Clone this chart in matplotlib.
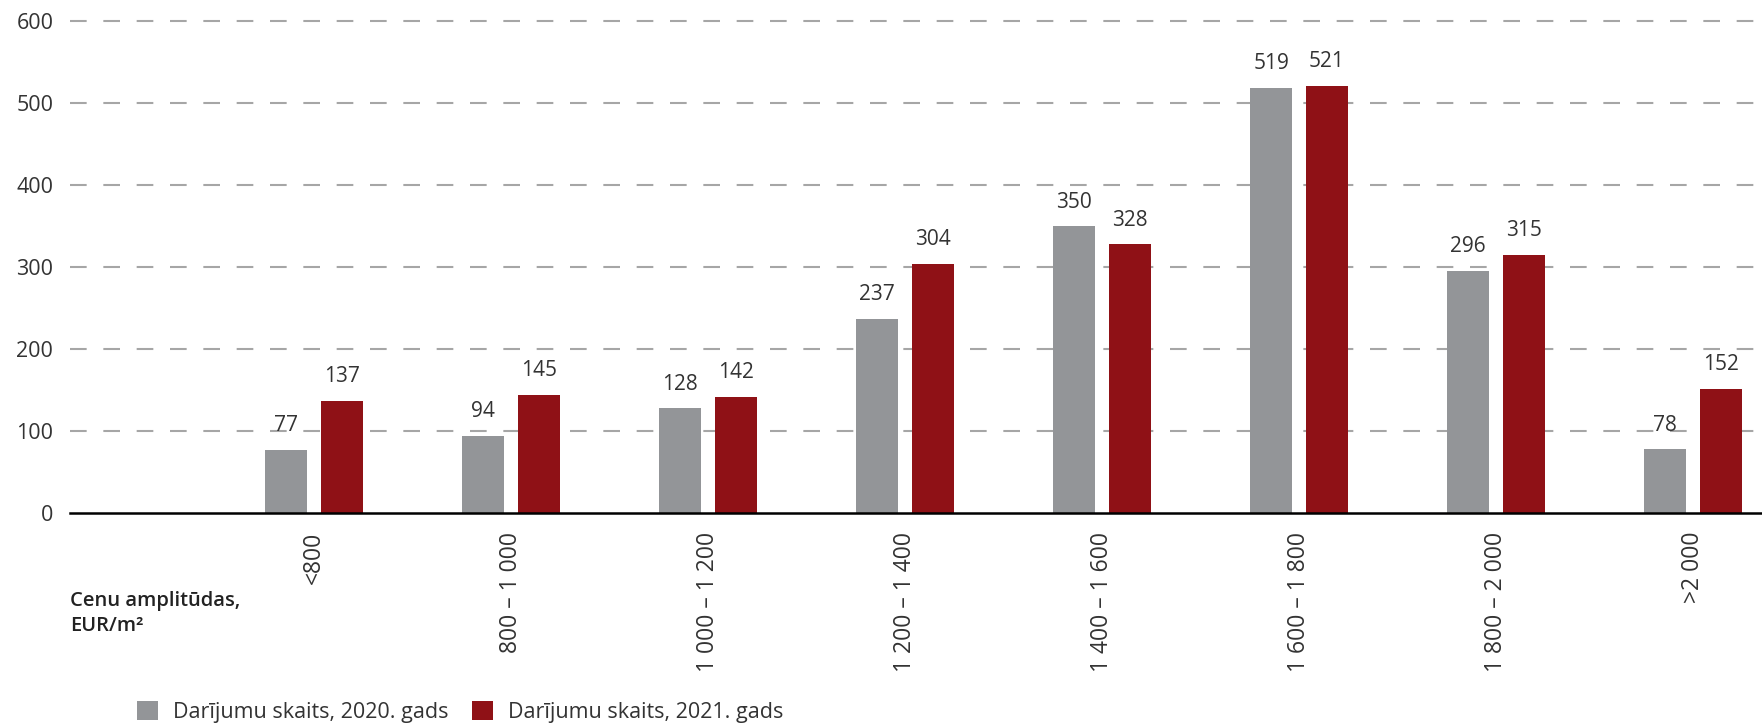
import numpy as np
import matplotlib.pyplot as plt

# price ranges and deal counts
categories = ['<800', '800 – 1 000', '1 000 – 1 200', '1 200 – 1 400',
              '1 400 – 1 600', '1 600 – 1 800', '1 800 – 2 000', '>2 000']
deals_2020 = [77, 94, 128, 237, 350, 519, 296, 78]
deals_2021 = [137, 145, 142, 304, 328, 521, 315, 152]
yticks = [0, 100, 200, 300, 400, 500, 600]

grey = '#939598'
red = '#8f1116'
txt = '#333333'

plt.rcParams['font.family'] = ['Open Sans', 'DejaVu Sans']

fig = plt.figure(figsize=(17.62, 7.28), dpi=100)
ax = fig.add_axes([0.0397, 0.2947, 0.9603, 0.6759])

x = np.arange(len(categories))
w = 0.21
off = 0.142
b1 = ax.bar(x - off, deals_2020, w, color=grey, label='Darījumu skaits, 2020. gads', zorder=3)
b2 = ax.bar(x + off, deals_2021, w, color=red, label='Darījumu skaits, 2021. gads', zorder=3)

ax.bar_label(b1, padding=10, fontsize=15, color=txt)
ax.bar_label(b2, padding=10, fontsize=15, color=txt)

ax.set_xlim(-1.239, 7.35)
ax.set_ylim(0, 600)
ax.set_yticks(yticks)
ax.set_xticks(x)
ax.set_xticklabels(categories, rotation=90, fontsize=16.5, color=txt)
ax.tick_params(axis='y', length=0, pad=12, labelsize=15.5, labelcolor=txt)
ax.tick_params(axis='x', length=0, pad=13)

# dashed gridlines
for y in yticks[1:]:
    ax.axhline(y, color='#a6a6a6', lw=1.5, linestyle=(0, (8, 8)), zorder=1, clip_on=False)

for s in ['top', 'right', 'left']:
    ax.spines[s].set_visible(False)
ax.spines['bottom'].set_linewidth(1.8)
ax.spines['bottom'].set_color('black')
ax.spines['bottom'].set_zorder(4)

fig.text(0.0397, 0.188, 'Cenu amplitūdas,\nEUR/m²', fontsize=14.5, color='#222222',
         va='top', ha='left', linespacing=1.3, fontweight=600)

leg = fig.legend(loc='center left', bbox_to_anchor=(0.078, 0.022), ncol=2, frameon=False,
                 fontsize=15.5, handlelength=0.95, handleheight=0.95, handletextpad=0.7,
                 columnspacing=1.1, borderaxespad=0, borderpad=0)
for t in leg.get_texts():
    t.set_color(txt)

fig.savefig('out.png', dpi=100)
